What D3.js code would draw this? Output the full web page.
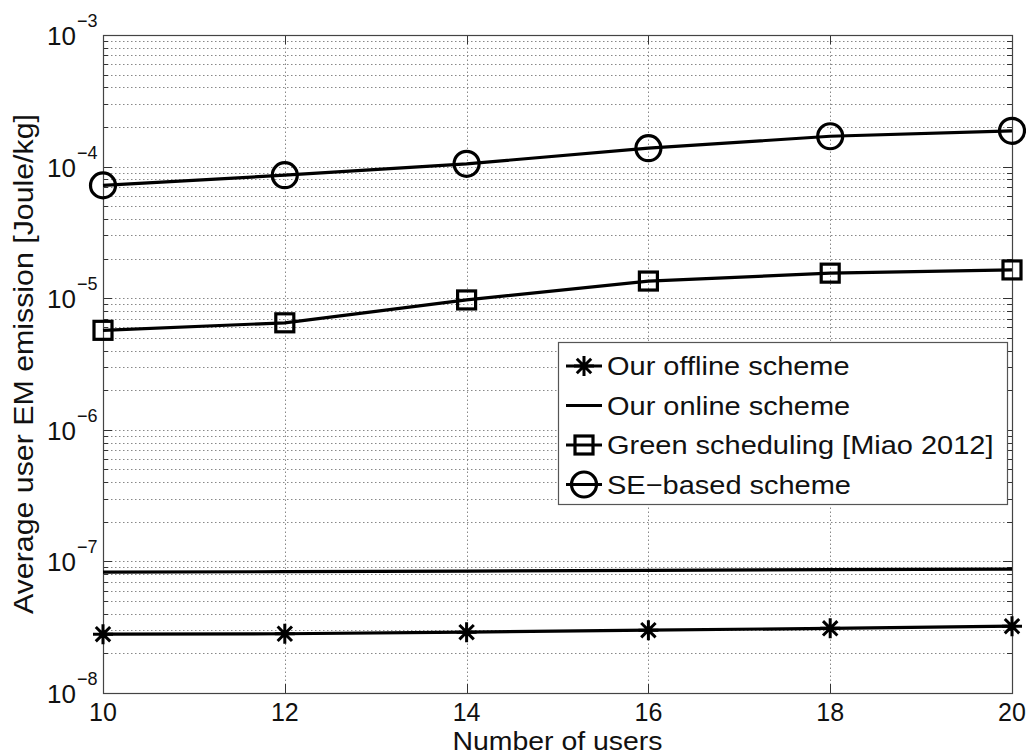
<!DOCTYPE html>
<html>
<head>
<meta charset="utf-8">
<script src="https://cdn.jsdelivr.net/npm/d3@7"></script>
<style>
  body { margin: 0; background: #fff; }
  text { font-family: "Liberation Sans", Arial, sans-serif; fill: #111; }
</style>
</head>
<body>
<svg id="chart" width="1026" height="756"></svg>
<script>
// data
const users = [10, 12, 14, 16, 18, 20];
const offline = [2.8e-8, 2.82e-8, 2.9e-8, 3.0e-8, 3.1e-8, 3.22e-8];
const online = [8.3e-8, 8.35e-8, 8.45e-8, 8.55e-8, 8.65e-8, 8.75e-8];
const green = [5.7e-6, 6.5e-6, 9.7e-6, 1.35e-5, 1.55e-5, 1.64e-5];
const seBased = [7.2e-5, 8.6e-5, 1.05e-4, 1.38e-4, 1.7e-4, 1.87e-4];

const xTicks = [10, 12, 14, 16, 18, 20];
const yExponents = [-8, -7, -6, -5, -4, -3];

const seriesNames = ["Our offline scheme", "Our online scheme",
  "Green scheduling [Miao 2012]", "SE\u2212based scheme"];

const svg = d3.select("#chart");
const margin = {left: 103, right: 14, top: 35, bottom: 63};
const width = 1026, height = 756;

const x = d3.scaleLinear().domain([10, 20]).range([margin.left, width - margin.right]);
const y = d3.scaleLog().domain([1e-8, 1e-3]).range([height - margin.bottom, margin.top]);

const x0 = x.range()[0], x1 = x.range()[1];
const y0 = y.range()[0], y1 = y.range()[1];

// minor + major log ticks
const minorVals = [];
yExponents.slice(0, -1).forEach(e => {
  for (let m = 2; m <= 9; m++) minorVals.push(m * Math.pow(10, e));
});
const majorVals = yExponents.map(e => Math.pow(10, e));

const grid = svg.append("g").attr("class", "grid")
  .attr("stroke", "#888").attr("stroke-width", 1).attr("stroke-dasharray", "1.5,2.5");

grid.selectAll(".gy").data(minorVals.concat(majorVals)).join("line")
  .attr("x1", x0).attr("x2", x1)
  .attr("y1", d => Math.round(y(d)) + 0.5).attr("y2", d => Math.round(y(d)) + 0.5);

grid.selectAll(".gx").data(xTicks.slice(1, -1)).join("line")
  .attr("x1", d => Math.round(x(d)) + 0.5).attr("x2", d => Math.round(x(d)) + 0.5)
  .attr("y1", y0).attr("y2", y1);

// tick marks inside the box, on both sides
const ticks = svg.append("g").attr("stroke", "#333").attr("stroke-width", 1);
[[x0, 1], [x1, -1]].forEach(([xx, dir]) => {
  ticks.selectAll(null).data(minorVals).join("line")
    .attr("x1", xx).attr("x2", xx + dir * 5)
    .attr("y1", d => Math.round(y(d)) + 0.5).attr("y2", d => Math.round(y(d)) + 0.5);
  ticks.selectAll(null).data(majorVals).join("line")
    .attr("x1", xx).attr("x2", xx + dir * 9)
    .attr("y1", d => Math.round(y(d)) + 0.5).attr("y2", d => Math.round(y(d)) + 0.5);
});
[[y0, -1], [y1, 1]].forEach(([yy, dir]) => {
  ticks.selectAll(null).data(xTicks).join("line")
    .attr("x1", d => Math.round(x(d)) + 0.5).attr("x2", d => Math.round(x(d)) + 0.5)
    .attr("y1", yy).attr("y2", yy + dir * 9);
});

// axis box
svg.append("rect")
  .attr("x", x0 + 0.5).attr("y", y1 + 0.5)
  .attr("width", x1 - x0).attr("height", y0 - y1)
  .attr("fill", "none").attr("stroke", "#444").attr("stroke-width", 1.2);

// tick labels
const yLab = svg.append("g");
yExponents.forEach(e => {
  const yy = y(Math.pow(10, e));
  yLab.append("text").attr("x", 76).attr("y", yy + 10)
    .attr("text-anchor", "end").attr("font-size", 26).text("10");
  yLab.append("text").attr("x", 77).attr("y", yy - 8)
    .attr("font-size", 18).text("\u2212" + Math.abs(e));
});

svg.append("g").selectAll("text").data(xTicks).join("text")
  .attr("x", d => x(d)).attr("y", 721)
  .attr("text-anchor", "middle").attr("font-size", 25).text(d => d);

svg.append("text")
  .attr("x", (x0 + x1) / 2).attr("y", 750)
  .attr("text-anchor", "middle").attr("font-size", 26)
  .attr("textLength", 210).attr("lengthAdjust", "spacingAndGlyphs")
  .text("Number of users");

svg.append("text")
  .attr("transform", `translate(33,${(y0 + y1) / 2}) rotate(-90)`)
  .attr("text-anchor", "middle").attr("font-size", 28)
  .attr("textLength", 500).attr("lengthAdjust", "spacingAndGlyphs")
  .text("Average user EM emission [Joule/kg]");

// markers
function drawMarker(g, type, cx, cy) {
  if (type === "star") {
    const r = 10, d = r * 0.72;
    g.append("path")
      .attr("d", `M${cx - r},${cy}H${cx + r}M${cx},${cy - r}V${cy + r}` +
        `M${cx - d},${cy - d}L${cx + d},${cy + d}M${cx - d},${cy + d}L${cx + d},${cy - d}`)
      .attr("stroke", "#000").attr("stroke-width", 3).attr("fill", "none");
  } else if (type === "square") {
    g.append("rect").attr("x", cx - 9).attr("y", cy - 9)
      .attr("width", 18).attr("height", 18)
      .attr("fill", "none").attr("stroke", "#000").attr("stroke-width", 3.2);
  } else if (type === "circle") {
    g.append("circle").attr("cx", cx).attr("cy", cy).attr("r", 12.5)
      .attr("fill", "none").attr("stroke", "#000").attr("stroke-width", 3.2);
  }
}

const series = [
  {values: offline, marker: "star"},
  {values: online, marker: "none"},
  {values: green, marker: "square"},
  {values: seBased, marker: "circle"}
];

const line = d3.line().x(d => x(d[0])).y(d => y(d[1]));
const plot = svg.append("g");
series.forEach(s => {
  const pts = users.map((u, i) => [u, s.values[i]]);
  plot.append("path").datum(pts).attr("d", line)
    .attr("fill", "none").attr("stroke", "#000").attr("stroke-width", 3.2);
  pts.forEach(p => drawMarker(plot, s.marker, x(p[0]), y(p[1])));
});

// legend
const leg = svg.append("g");
leg.append("rect").attr("x", 558.5).attr("y", 342.5).attr("width", 449).attr("height", 162)
  .attr("fill", "#fff").attr("stroke", "#555").attr("stroke-width", 1.2);
series.forEach((s, i) => {
  const ly = 366 + i * 39.5;
  leg.append("line").attr("x1", 566).attr("x2", 602).attr("y1", ly).attr("y2", ly)
    .attr("stroke", "#000").attr("stroke-width", 3.2);
  drawMarker(leg, s.marker, 584, ly);
  leg.append("text")
    .attr("transform", `translate(607,${ly + 9}) scale(1.115,1)`)
    .attr("font-size", 26).text(seriesNames[i]);
});
</script>
</body>
</html>
